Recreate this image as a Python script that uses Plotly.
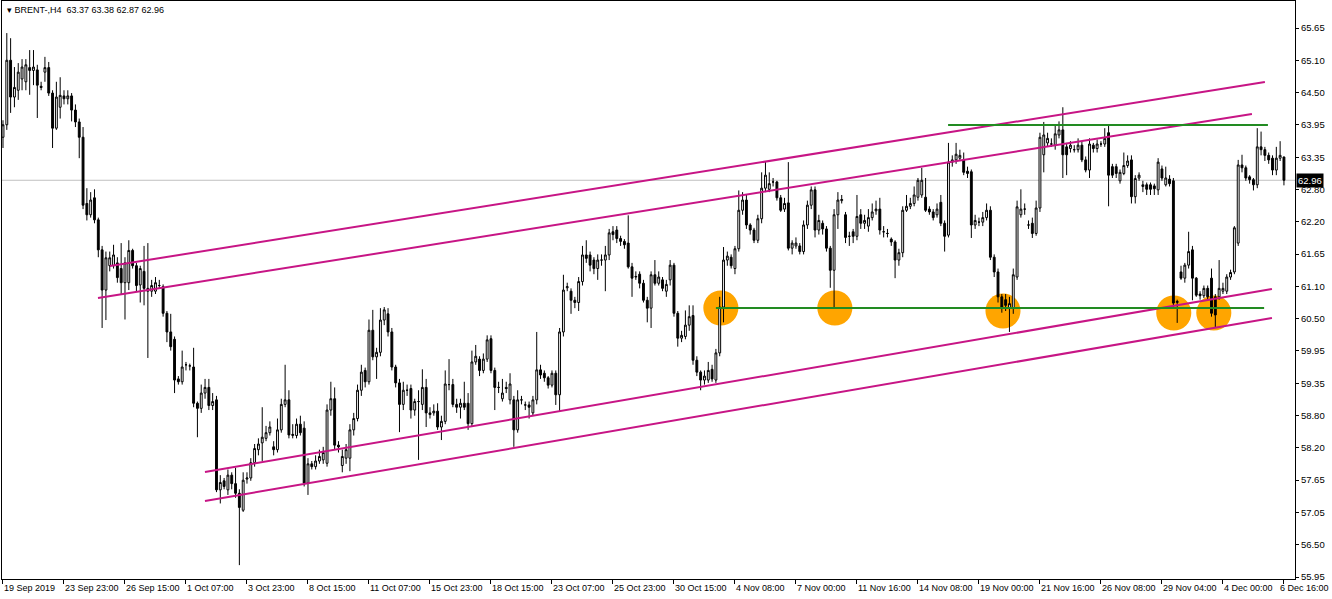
import numpy as np
import plotly.graph_objects as go

symbol = "BRENT-,H4"

open_ = [
 63.72,63.94,65.08,64.43,64.55,64.75,64.70,64.95,64.90,64.91,
 64.62,64.87,64.95,64.50,63.88,64.25,64.45,64.40,64.45,64.20,
 63.99,63.72,62.55,62.35,62.65,62.26,61.73,61.02,61.45,61.45,
 61.50,61.40,61.15,61.15,61.72,61.45,61.11,61.35,61.00,61.00,
 61.00,61.10,61.08,60.61,60.28,60.15,59.45,59.40,59.70,59.68,
 59.66,59.02,58.93,59.20,59.30,58.98,59.08,57.49,57.65,57.49,
 57.75,57.60,57.43,57.13,57.68,57.70,57.97,58.20,58.32,58.40,
 58.50,58.25,58.20,58.55,59.00,59.08,58.45,58.45,58.65,58.58,
 57.61,57.95,57.90,58.00,58.02,57.96,58.90,59.10,58.28,57.92,
 58.05,58.05,58.55,58.75,59.25,59.60,59.40,60.31,59.84,59.92,
 60.49,60.60,60.28,59.66,59.38,59.00,59.25,59.28,58.90,59.05,
 59.00,59.30,58.85,58.85,58.88,58.60,58.70,59.35,59.35,59.00,
 58.95,59.02,59.02,58.66,59.75,59.80,59.60,59.80,60.16,59.60,
 59.30,59.10,59.30,59.08,59.08,58.55,59.08,58.99,58.99,58.85,
 59.08,59.61,59.55,59.47,59.34,59.55,59.17,60.28,61.06,61.00,
 60.84,60.80,61.17,61.64,61.64,61.55,61.40,61.55,61.55,61.64,
 62.05,62.08,61.93,61.88,61.85,61.43,61.25,61.30,61.14,60.84,
 60.70,61.29,61.14,61.20,61.00,61.20,61.46,60.61,60.17,60.20,
 60.40,60.57,59.78,59.57,59.43,59.43,59.62,59.43,59.91,60.72,
 61.55,61.60,61.40,61.75,62.43,62.61,62.17,62.08,61.90,62.28,
 62.82,62.80,62.93,62.93,62.65,62.45,62.56,61.76,61.80,61.80,
 61.70,62.17,62.52,62.79,62.08,62.20,62.10,61.76,61.37,62.35,
 62.60,62.35,61.97,62.05,61.97,62.35,62.20,62.15,62.30,62.42,
 62.45,62.05,62.02,61.92,61.87,61.55,61.68,62.43,62.50,62.55,
 62.66,62.70,62.66,62.45,62.40,62.35,62.57,62.20,61.99,63.28,
 63.32,63.35,63.32,63.12,63.11,62.17,62.22,62.22,62.30,62.43,
 61.60,61.34,60.90,60.85,60.70,60.70,61.25,62.35,62.45,62.17,
 62.20,62.02,62.47,63.41,63.62,63.60,63.58,63.76,63.85,63.55,
 63.52,63.50,63.50,63.58,63.32,63.14,63.58,63.52,63.60,63.60,
 63.80,63.20,63.20,62.95,63.08,63.22,63.32,62.67,63.00,62.85,
 62.88,62.88,62.86,62.79,63.16,62.88,62.98,62.95,60.80,61.34,
 61.23,61.46,61.73,61.23,60.95,60.92,61.05,61.23,60.90,60.90,
 61.00,61.00,61.25,61.34,61.85,63.23,63.18,63.02,62.97,62.88,
 63.55,63.50,63.40,63.35,63.14,63.35,63.37]

high = [
 64.02,65.56,65.47,64.96,65.03,65.10,65.10,65.26,65.26,65.00,
 64.70,65.14,65.05,64.55,64.70,64.78,64.55,64.55,64.50,64.30,
 64.05,63.90,62.82,62.75,62.80,62.30,61.80,61.70,61.70,61.82,
 61.60,61.85,61.60,61.90,61.75,61.50,61.45,61.80,61.85,61.20,
 61.25,61.20,61.12,60.65,60.60,60.20,59.50,59.95,59.75,59.72,
 60.00,59.05,59.35,59.45,59.45,59.20,59.15,57.75,57.70,57.85,
 57.80,57.88,57.50,57.80,57.80,58.05,58.30,58.40,58.95,58.62,
 58.70,58.35,58.75,59.10,59.70,59.25,58.65,58.75,58.80,58.70,
 58.05,58.00,58.10,58.20,58.25,59.00,59.40,59.30,58.35,58.20,
 58.30,58.65,58.85,59.35,59.70,59.65,60.50,60.67,60.00,60.70,
 60.72,60.70,60.35,59.70,59.45,59.40,59.35,59.35,59.10,59.25,
 59.62,59.45,58.95,59.00,59.02,58.80,59.60,59.80,59.45,59.10,
 59.10,59.40,59.20,59.95,60.05,59.85,59.90,60.22,60.22,59.65,
 59.40,59.45,59.40,59.55,59.15,59.25,59.15,59.05,59.05,59.15,
 60.28,59.70,59.60,59.50,59.60,59.60,60.35,61.29,61.15,61.05,
 60.90,61.25,61.80,61.90,61.70,61.60,61.65,61.65,61.80,62.10,
 62.15,62.15,61.98,61.92,62.34,61.50,61.35,61.35,61.20,60.90,
 61.35,61.55,61.35,61.25,61.20,61.55,61.50,60.65,60.30,60.66,
 60.75,60.75,59.85,59.60,59.60,59.75,59.70,59.98,60.90,61.78,
 61.70,61.65,61.80,62.78,62.75,62.70,62.20,62.12,62.35,63.10,
 63.30,63.10,63.00,62.95,62.70,62.65,63.28,61.90,61.95,61.85,
 62.25,62.60,62.85,62.85,62.35,62.25,62.15,61.80,62.45,62.75,
 62.70,62.40,62.05,62.10,62.70,62.45,62.35,62.45,62.55,62.60,
 62.65,62.15,62.10,61.95,61.90,61.75,62.50,62.70,62.65,62.85,
 63.00,63.18,63.00,62.50,62.45,62.55,62.70,62.25,63.62,63.40,
 63.62,63.50,63.45,63.20,63.15,62.35,62.30,62.40,62.55,62.50,
 61.65,61.40,60.95,60.95,60.90,61.40,62.60,62.80,62.55,62.25,
 62.30,62.60,63.80,63.99,63.80,63.70,63.95,64.00,64.25,63.62,
 63.65,63.58,63.70,63.65,63.38,63.70,63.62,63.68,63.65,63.88,
 63.95,63.25,63.25,63.15,63.45,63.40,63.40,63.05,63.10,62.95,
 62.92,62.92,62.90,63.35,63.22,63.20,63.05,63.00,60.85,61.45,
 61.50,62.05,61.80,61.25,61.00,61.10,61.10,61.40,60.95,61.55,
 61.15,61.30,61.38,62.15,63.32,63.41,63.22,63.05,63.00,63.88,
 63.82,63.55,63.45,63.40,63.55,63.65,63.38]

low = [
 63.53,63.85,64.15,64.25,64.38,64.55,64.55,64.47,64.64,64.06,
 64.55,64.70,64.45,63.53,63.85,64.05,64.30,64.30,64.00,63.90,
 63.35,62.45,62.25,62.30,62.20,61.60,60.35,60.49,61.35,61.40,
 61.15,60.95,60.50,61.02,61.40,61.00,60.80,60.75,59.82,60.90,
 60.95,61.05,60.55,60.10,59.95,59.20,59.35,59.35,59.60,59.60,
 58.95,58.42,58.85,59.10,58.90,58.90,57.45,57.25,57.50,57.40,
 57.50,57.35,56.16,57.10,57.60,57.65,57.90,58.10,58.00,58.35,
 58.45,58.10,58.15,58.50,58.95,58.40,58.40,58.40,58.45,57.55,
 57.40,57.85,57.85,57.95,57.95,57.90,58.80,58.20,58.15,57.80,
 57.95,57.82,58.45,58.70,59.15,59.30,59.35,59.78,59.45,59.85,
 60.40,60.20,59.60,59.30,58.51,58.90,59.15,58.75,58.80,58.02,
 58.90,58.60,58.75,58.80,58.55,58.37,58.65,59.25,58.95,58.85,
 58.75,58.90,58.55,58.60,59.70,59.50,59.55,59.75,59.55,58.90,
 59.20,59.05,59.20,59.00,58.25,58.50,59.00,58.90,58.75,58.80,
 59.00,59.45,59.40,59.28,59.30,58.99,58.87,60.20,61.00,60.60,
 60.70,60.65,61.10,61.50,61.35,61.30,61.20,61.45,61.00,61.55,
 61.90,61.85,61.80,61.75,61.40,60.90,61.20,61.05,60.80,60.45,
 60.35,61.10,61.10,61.00,60.90,61.10,60.55,60.02,60.10,60.15,
 60.30,59.70,59.50,59.25,59.35,59.38,59.40,59.38,59.85,60.45,
 61.45,61.40,61.30,61.70,62.35,62.10,62.00,61.85,61.85,62.20,
 62.75,62.75,62.85,62.60,62.40,62.40,61.72,61.65,61.75,61.65,
 61.65,62.10,62.45,61.95,62.00,62.00,61.70,61.06,60.70,62.10,
 62.55,61.85,61.80,61.85,61.90,62.10,62.10,62.05,62.25,62.35,
 62.00,61.95,61.95,61.80,61.23,61.45,61.60,62.40,62.45,62.50,
 62.60,62.65,62.40,62.35,62.25,62.30,62.15,61.70,61.95,63.20,
 63.25,63.30,63.05,63.00,61.94,62.10,62.15,62.15,62.25,61.55,
 61.25,60.80,60.62,60.65,60.28,60.60,61.20,62.30,62.35,62.10,
 61.94,61.98,62.40,63.10,63.55,63.55,63.50,63.70,63.00,63.05,
 63.45,63.45,63.45,63.28,63.10,63.00,63.45,63.45,63.55,63.55,
 62.50,63.00,63.00,62.90,63.05,63.18,62.55,62.55,62.95,62.75,
 62.70,62.70,62.70,62.70,62.95,62.85,62.85,60.72,60.44,61.20,
 61.15,61.40,60.84,60.90,60.85,60.88,60.85,60.55,60.35,60.85,
 60.95,60.95,61.20,61.30,61.80,63.10,62.95,62.90,62.78,62.82,
 63.40,63.30,63.25,63.05,63.05,63.30,62.87]

close = [
 63.94,65.08,64.43,64.60,64.87,64.96,65.00,64.90,64.96,64.64,
 64.60,64.95,64.50,63.88,64.43,64.46,64.40,64.45,64.20,63.99,
 63.72,62.52,62.35,62.61,62.26,61.73,61.02,61.59,61.59,61.64,
 61.24,61.15,61.50,61.72,61.45,61.10,61.40,61.05,61.05,61.10,
 61.15,61.10,60.61,60.28,60.02,59.43,59.40,59.66,59.70,59.68,
 59.02,58.93,59.20,59.30,58.98,59.05,57.49,57.62,57.55,57.75,
 57.60,57.43,57.18,57.66,57.70,57.97,58.22,58.30,58.42,58.50,
 58.60,58.20,58.55,59.00,59.08,58.46,58.47,58.65,58.50,57.61,
 57.95,57.90,58.00,58.08,58.15,58.90,59.10,58.28,58.25,58.08,
 58.20,58.55,58.75,59.25,59.57,59.40,60.31,59.84,59.92,60.49,
 60.67,60.28,59.66,59.38,59.00,59.25,59.25,58.90,59.05,59.05,
 59.30,58.85,58.82,58.88,58.60,58.70,59.36,59.35,59.00,58.95,
 59.02,58.95,58.66,59.75,59.85,59.60,59.80,60.14,59.60,59.30,
 59.30,59.20,59.28,59.36,58.55,59.08,59.08,58.99,58.95,59.08,
 59.61,59.52,59.47,59.34,59.55,59.17,60.28,61.02,61.08,60.84,
 60.80,61.17,61.64,61.58,61.46,61.40,61.55,61.55,61.64,62.03,
 62.00,61.93,61.88,61.82,61.43,61.23,61.26,61.14,60.84,60.70,
 61.29,61.14,61.25,61.05,61.12,61.46,60.61,60.17,60.22,60.40,
 60.55,59.78,59.57,59.43,59.50,59.60,59.45,59.91,60.72,61.55,
 61.62,61.45,61.75,62.43,62.61,62.17,62.08,61.90,62.28,62.82,
 63.05,62.90,62.93,62.65,62.43,62.55,61.76,61.85,61.85,61.70,
 62.17,62.52,62.79,62.08,62.25,62.10,61.76,61.37,62.35,62.61,
 62.62,61.95,61.97,61.97,62.32,62.20,62.25,62.30,62.40,62.45,
 62.08,62.05,62.02,61.87,61.55,61.68,62.43,62.50,62.55,62.70,
 62.96,62.96,62.43,62.40,62.30,62.45,62.20,61.97,63.28,63.32,
 63.42,63.40,63.10,63.08,62.17,62.25,62.22,62.30,62.43,61.60,
 61.34,60.90,60.72,60.75,60.78,61.29,62.49,62.45,62.45,62.17,
 62.02,62.47,63.72,63.76,63.70,63.60,63.78,63.85,63.41,63.41,
 63.58,63.50,63.58,63.32,63.14,63.60,63.52,63.60,63.60,63.70,
 63.05,63.05,63.08,63.10,63.22,63.30,62.67,62.99,63.05,62.88,
 62.80,62.80,62.81,63.28,63.00,63.00,62.90,60.79,60.82,61.23,
 61.46,61.70,61.23,60.93,60.92,61.05,60.90,60.61,60.58,61.05,
 61.05,61.25,61.33,62.12,63.23,63.18,63.00,62.97,62.88,63.55,
 63.50,63.40,63.32,63.14,63.35,63.40,62.96]

# time labels every 16 bars
time_labels = ["19 Sep 2019", "23 Sep 23:00", "26 Sep 15:00", "1 Oct 07:00", "3 Oct 23:00",
               "8 Oct 15:00", "11 Oct 07:00", "15 Oct 23:00", "18 Oct 15:00", "23 Oct 07:00",
               "25 Oct 23:00", "30 Oct 15:00", "4 Nov 08:00", "7 Nov 00:00", "11 Nov 16:00",
               "14 Nov 08:00", "19 Nov 00:00", "21 Nov 16:00", "26 Nov 08:00", "29 Nov 04:00",
               "4 Dec 00:00", "6 Dec 16:00"]
label_step = 16

price_labels = ["55.95", "56.50", "57.05", "57.65", "58.20", "58.80", "59.35", "59.95", "60.50",
                "61.10", "61.65", "62.20", "62.80", "63.35", "63.95", "64.50", "65.10", "65.65"]

# trend lines (bar index, price)
channel_lines = [
    ((28.07, 61.445), (331.0, 64.696)),
    ((24.92, 60.880), (327.6, 64.131)),
    ((52.98, 57.806), (332.85, 61.039)),
    ((52.98, 57.293), (332.85, 60.527)),
]
green_lines = [
    ((247.9, 63.937), (331.8, 63.937)),
    ((187.0, 60.703), (330.8, 60.703)),
]
circle_centers = [(188.3, 60.703), (218.2, 60.703), (262.3, 60.65), (307.1, 60.615), (317.6, 60.615)]
circle_rx, circle_ry = 4.6, 0.31

n = len(close)
x = list(range(n))
hi = [max(h, o, c) for h, o, c in zip(high, open_, close)]
lo = [min(l, o, c) for l, o, c in zip(low, open_, close)]

FONT = "Liberation Sans, Arial, sans-serif"

fig = go.Figure()
fig.add_trace(go.Candlestick(
    x=x, open=open_, high=hi, low=lo, close=close,
    increasing=dict(line=dict(color="black", width=1), fillcolor="white"),
    decreasing=dict(line=dict(color="black", width=1), fillcolor="black"),
    whiskerwidth=0, showlegend=False, hoverinfo="skip"))

for (x0, y0), (x1, y1) in channel_lines:
    fig.add_trace(go.Scatter(x=[x0, x1], y=[y0, y1], mode="lines",
                             line=dict(color="#C71585", width=2), showlegend=False, hoverinfo="skip"))
for (x0, y0), (x1, y1) in green_lines:
    fig.add_trace(go.Scatter(x=[x0, x1], y=[y0, y1], mode="lines",
                             line=dict(color="#228B22", width=2), showlegend=False, hoverinfo="skip"))

shapes = []
for cx, cy in circle_centers:
    shapes.append(dict(type="circle", xref="x", yref="y", layer="below",
                       x0=cx - circle_rx, x1=cx + circle_rx, y0=cy - circle_ry, y1=cy + circle_ry,
                       fillcolor="#FFA500", line=dict(width=0)))
last = close[-1]
shapes.append(dict(type="line", xref="paper", yref="y", x0=0, x1=1, y0=last, y1=last,
                   line=dict(color="#C0C0C0", width=1), layer="below"))

annotations = []
for k, t in enumerate(time_labels):
    if k == len(time_labels) - 1:
        # last label is pushed left so it stays inside the window, as in the terminal
        annotations.append(dict(x=1, y=0, xref="paper", yref="paper", text=t,
                                showarrow=False, xanchor="right", yanchor="top", yshift=-2, xshift=36,
                                font=dict(family=FONT, size=9, color="black")))
    else:
        annotations.append(dict(x=k * label_step, y=0, xref="x", yref="paper", text=t,
                                showarrow=False, xanchor="left", yanchor="top", yshift=-2, xshift=-1,
                                font=dict(family=FONT, size=9, color="black")))
annotations.append(dict(x=0, y=1, xref="paper", yref="paper", xanchor="left", yanchor="top",
                        xshift=3, yshift=-2, showarrow=False,
                        text=f"▾ {symbol}  {open_[-1]:.2f} {high[-1]:.2f} {low[-1]:.2f} {close[-1]:.2f}",
                        font=dict(family=FONT, size=9, color="black")))
annotations.append(dict(x=1, y=last, xref="paper", yref="y", xanchor="left", yanchor="middle",
                        xshift=1, showarrow=False, text=f"{last:.2f}", bgcolor="black", borderpad=1,
                        font=dict(family=FONT, size=9.5, color="white")))

fig.update_layout(
    width=1332, height=599,
    margin=dict(l=2, r=37, t=1, b=20),
    paper_bgcolor="white", plot_bgcolor="white",
    shapes=shapes, annotations=annotations,
    xaxis=dict(range=[-0.26, 338.9], rangeslider=dict(visible=False), showgrid=False, zeroline=False,
               tickvals=[k * label_step for k in range(len(time_labels))], showticklabels=False,
               ticks="outside", ticklen=4, tickcolor="black",
               showline=True, mirror=True, linecolor="black", linewidth=1),
    yaxis=dict(range=[55.915, 66.127], side="right", showgrid=False, zeroline=False,
               tickvals=list(np.linspace(55.95, 65.65, len(price_labels))), ticktext=price_labels,
               ticks="outside", ticklen=3, tickcolor="black",
               showline=True, mirror=True, linecolor="black", linewidth=1,
               tickfont=dict(family=FONT, size=9.5, color="black")),
)

fig.write_html("out.html", config={"displayModeBar": False},
               post_script="document.body.style.margin='0px';document.body.style.overflow='hidden';")
